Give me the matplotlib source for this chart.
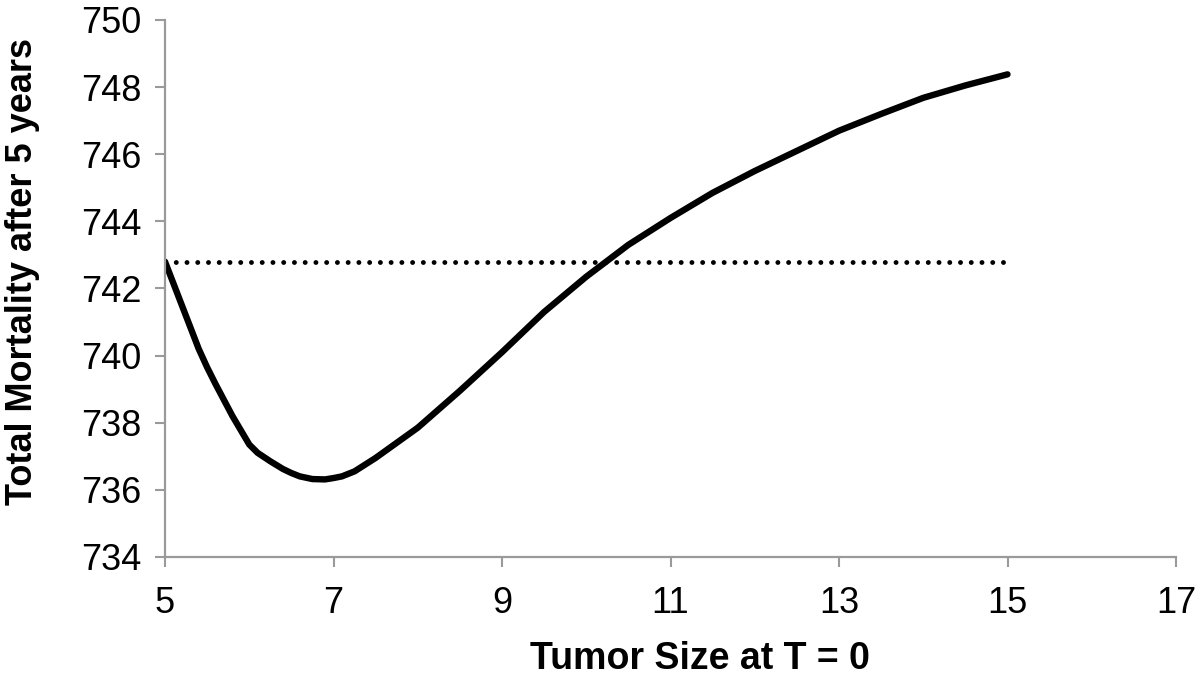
#!/usr/bin/env python3

import matplotlib
matplotlib.use('Agg')
import matplotlib.pyplot as plt

# Curve
tumor_size = [5.0, 5.1, 5.2, 5.3, 5.4, 5.5, 5.6, 5.8, 6.0, 6.1, 6.25, 6.4, 6.5,
              6.6, 6.75, 6.9, 7.0, 7.1, 7.25, 7.5, 7.75, 8.0, 8.5, 9.0, 9.5,
              10.0, 10.5, 11.0, 11.5, 12.0, 12.5, 13.0, 13.5, 14.0, 14.5, 15.0]
mortality = [742.8, 742.15, 741.5, 740.85, 740.2, 739.65, 739.15, 738.2,
             737.35, 737.1, 736.85, 736.62, 736.5, 736.4, 736.32, 736.31,
             736.35, 736.4, 736.55, 736.95, 737.4, 737.85, 738.95, 740.1,
             741.3, 742.35, 743.3, 744.1, 744.85, 745.5, 746.1, 746.7,
             747.2, 747.68, 748.05, 748.38]

baseline_x = [5, 15]
baseline_y = [742.8, 742.8]

x_ticks = [5, 7, 9, 11, 13, 15, 17]
y_ticks = [734, 736, 738, 740, 742, 744, 746, 748, 750]

plt.rcParams['font.family'] = ['Liberation Sans', 'DejaVu Sans']

fig = plt.figure(figsize=(12, 6.8), dpi=100)
ax = fig.add_axes([0.1375, 0.181, 0.8425, 0.7896])

ax.plot(tumor_size, mortality, color='black', linewidth=4.6,
        solid_capstyle='round', solid_joinstyle='round')
ax.plot(baseline_x, baseline_y, color='black', linewidth=3.5,
        linestyle=(0, (0.01, 2.2)), dash_capstyle='round')

ax.set_xlim(5, 17)
ax.set_ylim(734, 750)
ax.set_xticks(x_ticks)
ax.set_yticks(y_ticks)

for side in ['top', 'right']:
    ax.spines[side].set_visible(False)
for side in ['left', 'bottom']:
    ax.spines[side].set_color('#9a9a9a')
    ax.spines[side].set_linewidth(1.6)

ax.tick_params(axis='both', colors='#9a9a9a', length=7, width=1.5,
               direction='out', labelsize=26, labelcolor='black')
ax.tick_params(axis='x', pad=14)
ax.tick_params(axis='y', pad=10)

ax.set_xlabel('Tumor Size at T = 0', fontsize=27, fontweight='bold')
ax.set_ylabel('Total Mortality after 5 years', fontsize=26, fontweight='bold')
ax.xaxis.set_label_coords(0.529, -0.157)
ax.yaxis.set_label_coords(-0.124, 0.532)

fig.savefig('out.png', dpi=100)
plt.close(fig)
